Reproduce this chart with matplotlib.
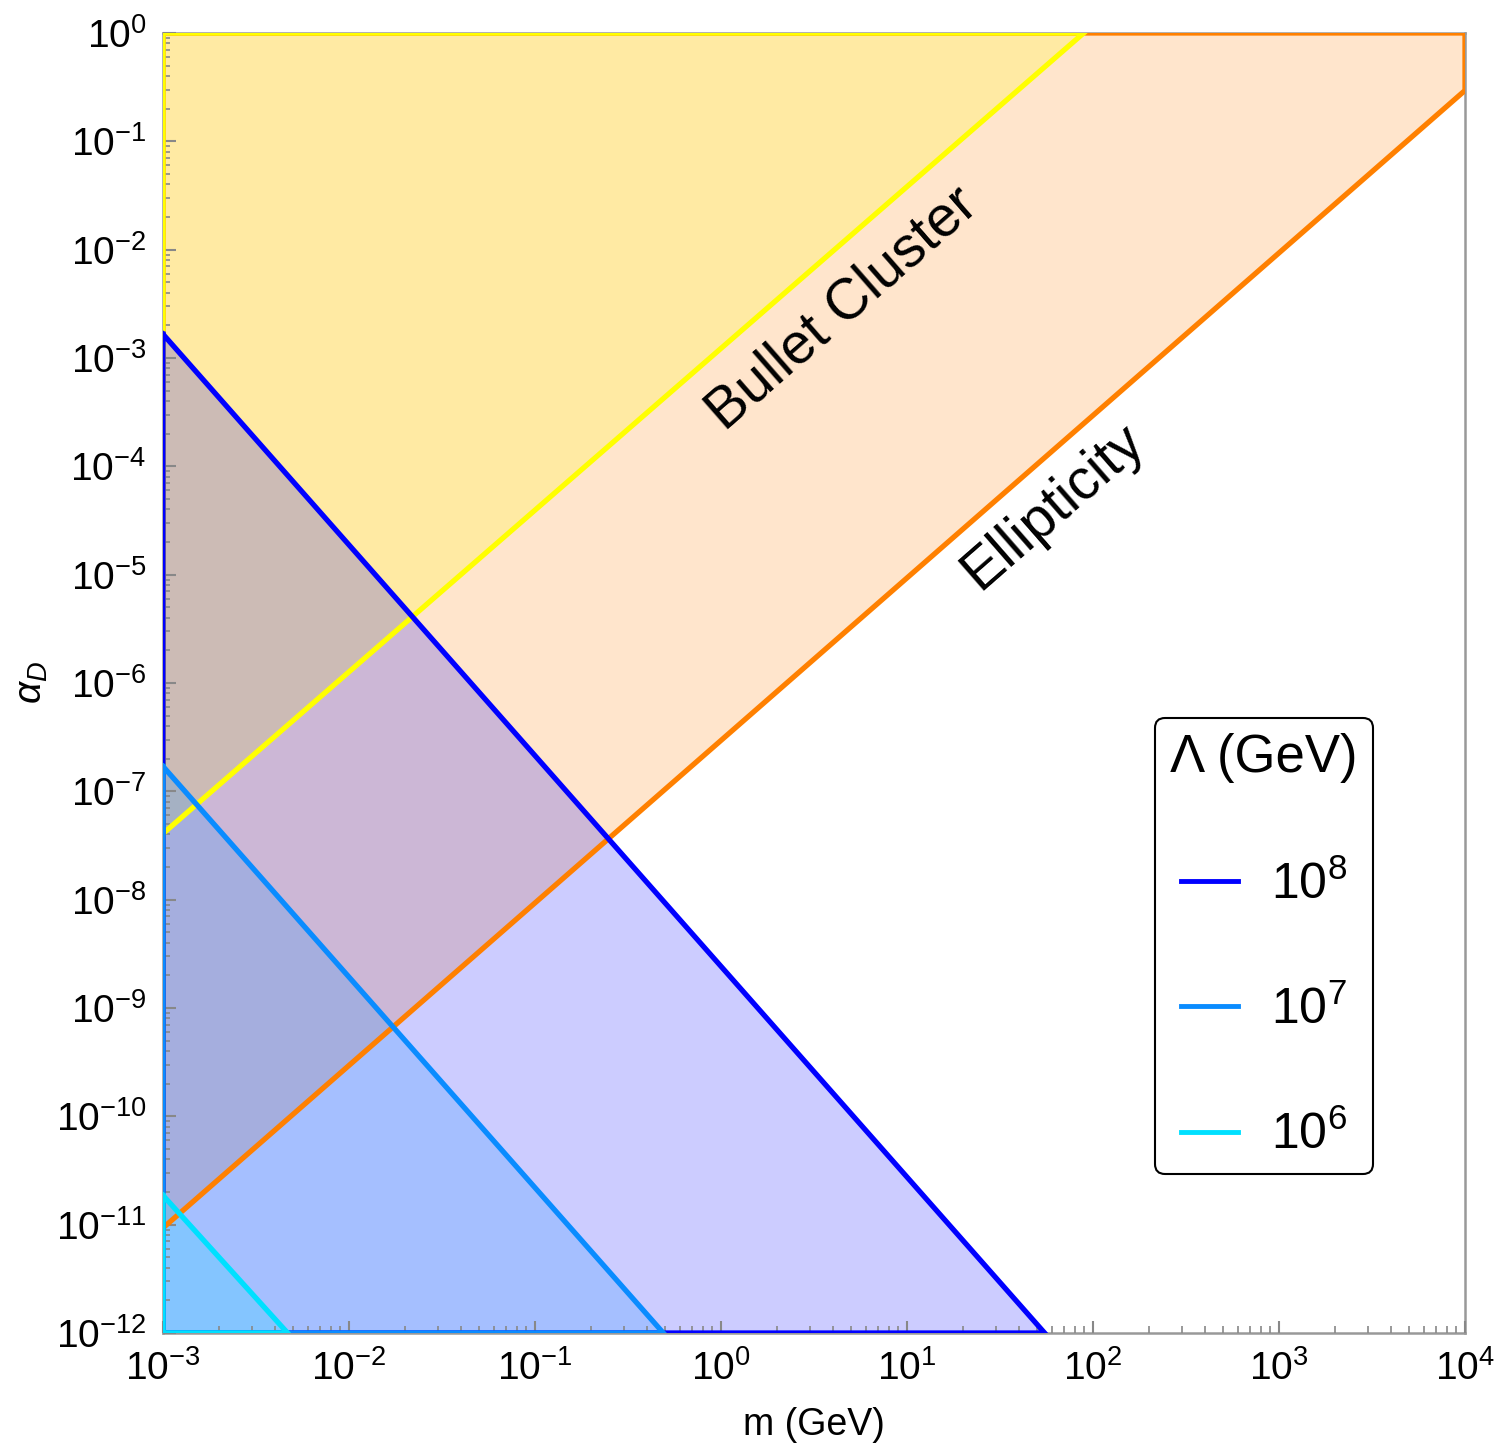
import numpy as np
import matplotlib
matplotlib.use('Agg')
import matplotlib.pyplot as plt
from matplotlib.lines import Line2D
from matplotlib.ticker import LogLocator, NullFormatter

plt.rcParams['font.family'] = ['Liberation Sans', 'DejaVu Sans']
plt.rcParams['mathtext.fontset'] = 'custom'
plt.rcParams['mathtext.rm'] = 'Liberation Sans'
plt.rcParams['mathtext.it'] = 'Liberation Sans:italic'
plt.rcParams['mathtext.default'] = 'rm'

# plot range
m_lim = [1e-3, 1e4]
alpha_lim = [1e-12, 1.0]

# Bullet Cluster and ellipticity bounds
bullet_m = [1e-3, 10**1.95]
bullet_alpha = [10**-7.39, 1.0]
ellip_m = [1e-3, 1e4]
ellip_alpha = [10**-11.03, 10**-0.53]

# Lambda curves: alpha_D at m = 1e-3 and m where alpha_D hits 1e-12
lam_labels = ['$10^{8}$', '$10^{7}$', '$10^{6}$']
lam_alpha_left = [10**-2.78, 10**-6.77, 10**-10.73]
lam_m_bottom = [10**1.74, 10**-0.31, 10**-2.33]
lam_colors = ['#0000ff', '#0a8cff', '#00e0ff']

fig = plt.figure(figsize=(14.98, 14.50), dpi=100)
ax = fig.add_axes([163/1498, 1 - 1333/1450, 1302/1498, 1300/1450])
ax.set_xscale('log')
ax.set_yscale('log')

lw = 3.8

# ellipticity region (above orange line)
ex = [ellip_m[0], ellip_m[1], m_lim[1], m_lim[0], ellip_m[0]]
ey = [ellip_alpha[0], ellip_alpha[1], alpha_lim[1], alpha_lim[1], ellip_alpha[0]]
ax.fill(ex, ey, color='#ff8000', alpha=0.2, lw=0)
ax.plot(ex, ey, color='#ff8000', lw=lw, solid_joinstyle='miter')

# bullet cluster region (above yellow line)
bx = [bullet_m[0], bullet_m[1], m_lim[0], bullet_m[0]]
by = [bullet_alpha[0], bullet_alpha[1], alpha_lim[1], bullet_alpha[0]]
ax.fill(bx, by, color='#ffff00', alpha=0.2, lw=0)
ax.plot(bx, by, color='#ffff00', lw=lw, solid_joinstyle='miter')

# Lambda regions
for a0, mb, c in zip(lam_alpha_left, lam_m_bottom, lam_colors):
    px = [m_lim[0], mb, m_lim[0], m_lim[0]]
    py = [a0, alpha_lim[0], alpha_lim[0], a0]
    ax.fill(px, py, color=c, alpha=0.2, lw=0)
    ax.plot(px, py, color=c, lw=lw, solid_joinstyle='miter')

ax.set_xlim(m_lim)
ax.set_ylim(alpha_lim)

# rotated labels along the bounds
p0 = ax.transData.transform((ellip_m[0], ellip_alpha[0]))
p1 = ax.transData.transform((ellip_m[1], ellip_alpha[1]))
ang = np.degrees(np.arctan2(p1[1] - p0[1], p1[0] - p0[0]))
ax.text(4.5, 10**-2.55, 'Bullet Cluster', fontsize=41, rotation=ang,
        rotation_mode='anchor', ha='center', va='center')
ax.text(61, 10**-4.37, 'Ellipticity', fontsize=41, rotation=ang,
        rotation_mode='anchor', ha='center', va='center')

# ticks
ax.xaxis.set_minor_locator(LogLocator(base=10, subs=np.arange(2, 10), numticks=20))
ax.yaxis.set_minor_locator(LogLocator(base=10, subs=np.arange(2, 10), numticks=20))
ax.xaxis.set_minor_formatter(NullFormatter())
ax.yaxis.set_minor_formatter(NullFormatter())
xt = [10.0**k for k in range(-3, 5)]
yt = [10.0**k for k in range(-12, 1)]
ax.set_xticks(xt)
ax.set_xticklabels(['$10^{%d}$' % k for k in range(-3, 5)])
ax.set_yticks(yt)
ax.set_yticklabels(['$10^{%d}$' % k for k in range(-12, 1)])
ax.set_xlim(m_lim)
ax.set_ylim(alpha_lim)
ax.tick_params(which='both', direction='in', color='#888888', top=False, right=False,
               labelsize=28)
ax.tick_params(which='major', length=9, width=1.5, pad=12)
ax.tick_params(which='minor', length=5, width=1.2)
for s in ax.spines.values():
    s.set_color('#999999')
    s.set_linewidth(1.8)
    s.set_zorder(0.5)

ax.set_xlabel('m (GeV)', fontsize=27, labelpad=14)
ax.set_ylabel(r'$\mathit{\alpha_D}$', fontsize=28, labelpad=4)

handles = [Line2D([], [], color=c, lw=3.5) for c in lam_colors]
leg = fig.legend(handles, lam_labels, title='Λ (GeV)', loc='upper left',
                 bbox_to_anchor=(1155/1498, 1 - 718/1450), fontsize=36,
                 title_fontsize=38, frameon=True, fancybox=True, edgecolor='black',
                 framealpha=1, handlelength=1.15, handletextpad=0.65,
                 labelspacing=1.55, borderpad=0.3, borderaxespad=0)
leg.get_frame().set_linewidth(1.5)

fig.savefig('out.png', dpi=100)
